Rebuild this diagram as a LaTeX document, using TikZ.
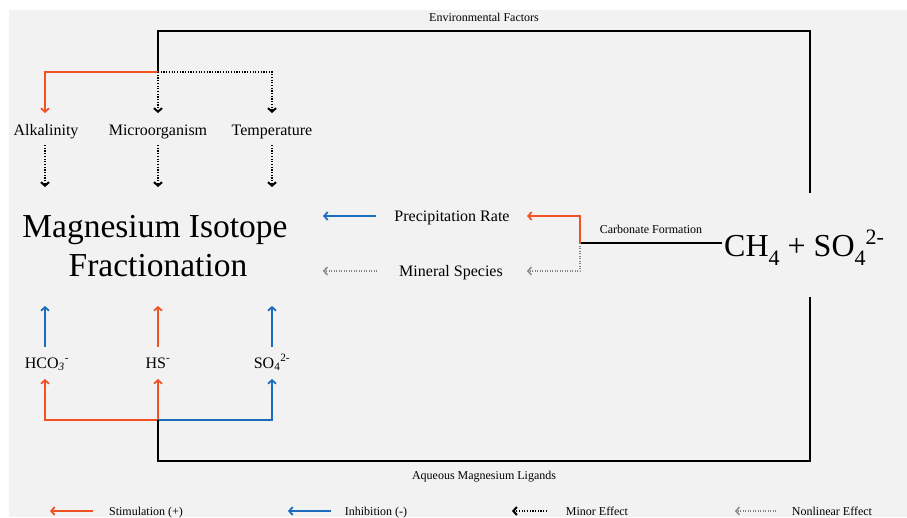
\documentclass[tikz,border=0pt]{standalone}
\usepackage{fontspec}
\setmainfont{Liberation Serif}
\usetikzlibrary{arrows.meta}
\definecolor{bgc}{RGB}{242,242,242}
\definecolor{stim}{RGB}{240,82,36}
\definecolor{inhib}{RGB}{28,108,190}
\definecolor{nonlin}{RGB}{130,130,130}
\newcommand{\chsub}[1]{\raisebox{-0.3em}{\fontsize{22}{22}\selectfont #1}}
\newcommand{\chsup}[1]{\raisebox{0.36em}{\fontsize{22}{22}\selectfont #1}}
\tikzset{
  tip/.style={-{Straight Barb[length=3.5pt,width=8pt]}},
  mainline/.style={draw=black,line width=1.8pt},
  stimline/.style={draw=stim,line width=1.8pt},
  inhibline/.style={draw=inhib,line width=1.8pt},
  minorline/.style={draw=black,line width=2pt,dash pattern=on 1.2pt off 1.5pt},
  nonlinline/.style={draw=nonlin,line width=1.4pt,dash pattern=on 1pt off 1.5pt},
  lbl/.style={inner sep=0pt,anchor=base,font=\fontsize{16}{19}\selectfont},
  small/.style={inner sep=0pt,anchor=base,font=\fontsize{12}{14}\selectfont},
  big/.style={inner sep=0pt,anchor=base,font=\fontsize{33.5}{36}\selectfont},
}
\begin{document}
\begin{tikzpicture}[x=1pt,y=-1pt]
\useasboundingbox (0,0) rectangle (907,517);
\fill[bgc] (9,10) rectangle (907,517);

% text nodes
\node[small] (env) at (484,21) {Environmental Factors};
\node[lbl] (alk) at (46,135) {Alkalinity};
\node[lbl] (micro) at (158,135) {Microorganism};
\node[lbl] (temp) at (272,135) {Temperature};
\node[big] (mag1) at (155,237) {Magnesium Isotope};
\node[big] (mag2) at (158,276) {Fractionation};
\node[lbl] (prec) at (452,221) {Precipitation Rate};
\node[lbl] (miner) at (451,276) {Mineral Species};
\node[small] (carb) at (651,233) {Carbonate Formation};
\node[inner sep=0pt,anchor=base west,font=\fontsize{32}{36}\selectfont] (ch4) at (724,256) {CH\chsub{4} + SO\chsub{4}\chsup{2-}};
\node[lbl] (hco) at (47,368) {HCO\textsubscript{\textit{3}}\textsuperscript{-}};
\node[lbl] (hs) at (158,368) {HS\textsuperscript{-}};
\node[lbl] (so) at (272,368) {SO\textsubscript{4}\textsuperscript{2-}};
\node[small] (aq) at (484,479) {Aqueous Magnesium Ligands};

% junction coordinates
\coordinate (jt) at (158,72);
\coordinate (jr) at (580,243);
\coordinate (jb) at (158,420);
\coordinate (rt) at (810,193);
\coordinate (rb) at (810,297);
\coordinate (ce) at (722,243);

% top
\draw[mainline] (jt) -- (158,31) -- (810,31) -- (rt);
\draw[stimline,tip] (jt) -- (45,72) -- (45,113);
\draw[minorline,tip] (jt) -- (158,113);
\draw[minorline,tip] (jt) -- (272,72) -- (272,113);
\draw[minorline,tip] (45,145) -- (45,187);
\draw[minorline,tip] (158,145) -- (158,187);
\draw[minorline,tip] (272,145) -- (272,187);

% right part
\draw[mainline] (jr) -- (ce);
\draw[stimline,tip] (jr) -- (580,216) -- (527,216);
\draw[nonlinline,tip] (jr) -- (580,271) -- (527,271);
\draw[inhibline,tip] (376,216) -- (323,216);
\draw[nonlinline,tip] (377,271) -- (323,271);

% bottom
\draw[inhibline,tip] (45,347) -- (45,306);
\draw[stimline,tip] (158,347) -- (158,306);
\draw[inhibline,tip] (272,347) -- (272,306);
\draw[stimline,tip] (jb) -- (45,420) -- (45,379);
\draw[stimline,tip] (jb) -- (158,379);
\draw[inhibline,tip] (jb) -- (272,420) -- (272,379);
\draw[mainline] (jb) -- (158,461) -- (810,461) -- (rb);

% legend
\node[small] (l1) at (146,515) {Stimulation (+)};
\node[small] (l2) at (376,515) {Inhibition (-)};
\node[small] (l3) at (597,515) {Minor Effect};
\node[small] (l4) at (832,515) {Nonlinear Effect};
\coordinate (a1s) at (93,511); \coordinate (a1e) at (50,511);
\coordinate (a2s) at (331,511); \coordinate (a2e) at (288,511);
\coordinate (a3s) at (547,511); \coordinate (a3e) at (512,511);
\coordinate (a4s) at (776,511); \coordinate (a4e) at (735,511);
\draw[stimline,tip] (a1s) -- (a1e);
\draw[inhibline,tip] (a2s) -- (a2e);
\draw[minorline,tip] (a3s) -- (a3e);
\draw[nonlinline,tip] (a4s) -- (a4e);
\end{tikzpicture}
\end{document}
